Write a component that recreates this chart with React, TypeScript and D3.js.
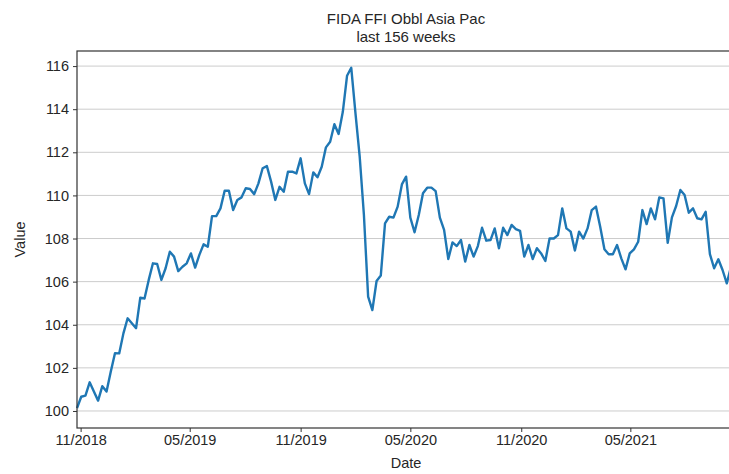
import React, { useRef, useEffect } from "react"
import * as d3 from "d3"

// weekly index values, first week ending 26 Oct 2018
const startDate = new Date(2018, 9, 26)
const values = [
  100.13, 100.66, 100.71, 101.33, 100.9, 100.48, 101.15, 100.9, 101.82, 102.68, 102.67, 103.6, 104.3, 104.07, 103.84, 105.26,
  105.22, 106.08, 106.85, 106.82, 106.08, 106.62, 107.39, 107.16, 106.49, 106.69, 106.85, 107.31, 106.65, 107.24, 107.73, 107.62,
  109.04, 109.04, 109.4, 110.22, 110.22, 109.32, 109.79, 109.91, 110.33, 110.3, 110.06, 110.56, 111.26, 111.36, 110.64, 109.79,
  110.4, 110.17, 111.1, 111.1, 111.02, 111.72, 110.56, 110.06, 111.07, 110.84, 111.33, 112.23, 112.49,
  113.3, 112.85, 113.88, 115.55, 115.92, 113.81, 111.8, 109.09, 105.3, 104.68, 106.03, 106.28, 108.7, 109.01, 108.97, 109.48,
  110.51, 110.87, 108.97, 108.29, 109.09, 110.1, 110.36, 110.36, 110.2, 108.97, 108.4, 107.05, 107.82, 107.65, 107.93,
  106.93, 107.7, 107.16, 107.65, 108.5, 107.9, 107.93, 108.47, 107.55, 108.5, 108.16, 108.63, 108.44, 108.36, 107.16, 107.7,
  107.05, 107.55, 107.31, 106.96, 108.0, 108.0, 108.16, 109.4, 108.47, 108.32, 107.44, 108.32, 108.0, 108.47, 109.32,
  109.48, 108.55, 107.5, 107.27, 107.27, 107.7, 107.08, 106.57, 107.31, 107.5, 107.85, 109.32, 108.67, 109.4, 108.89, 109.91,
  109.86, 107.8, 108.98, 109.51, 110.25, 110.02, 109.2, 109.4, 108.94, 108.89, 109.24, 107.28, 106.62, 107.04, 106.54, 105.92,
  106.69,
]
const yTicks = [100, 102, 104, 106, 108, 110, 112, 114, 116]
const xTicks = [new Date(2018, 10, 1), new Date(2019, 4, 1), new Date(2019, 10, 1), new Date(2020, 4, 1), new Date(2020, 10, 1), new Date(2021, 4, 1)]
const titleLines = ["FIDA FFI Obbl Asia Pac", "last 156 weeks"]

const W = 729
const H = 474
const FONT = "'Liberation Sans', Arial, sans-serif"
const TXT = "#262626"

const App = () => {
  const ref = useRef<SVGSVGElement>(null)

  useEffect(() => {
    const svg = d3.select(ref.current)
    svg.selectAll("*").remove()

    const data = values.map((v, i) => ({ date: d3.timeWeek.offset(startDate, i), value: v }))
    // axes box runs past the right edge of the picture
    const left = 77, right = 731, top = 51, bottom = 428

    const x = d3.scaleTime()
      .domain([data[0].date, data[data.length - 1].date])
      .range([left, right])
    const y = d3.scaleLinear().domain([99.21, 116.7]).range([bottom, top])

    // grid
    svg.append("g")
      .selectAll("line")
      .data(yTicks)
      .join("line")
      .attr("x1", left).attr("x2", right)
      .attr("y1", d => y(d)).attr("y2", d => y(d))
      .attr("stroke", "#cccccc").attr("stroke-width", 1)

    const line = d3.line<{ date: Date; value: number }>()
      .x(d => x(d.date))
      .y(d => y(d.value))
    svg.append("path")
      .datum(data)
      .attr("d", line)
      .attr("fill", "none")
      .attr("stroke", "#1f77b4")
      .attr("stroke-width", 2.4)
      .attr("stroke-linejoin", "round")

    // frame
    svg.append("rect")
      .attr("x", left).attr("y", top)
      .attr("width", right + 10 - left).attr("height", bottom - top)
      .attr("fill", "none").attr("stroke", "#333333").attr("stroke-width", 1.2)

    const yAxis = d3.axisLeft(y).tickValues(yTicks).tickSize(4).tickPadding(4).tickFormat(d3.format("d"))
    const gy = svg.append("g").attr("transform", `translate(${left},0)`).call(yAxis)
    const xAxis = d3.axisBottom(x).tickValues(xTicks).tickSize(4).tickPadding(3).tickFormat(d3.timeFormat("%m/%Y") as any)
    const gx = svg.append("g").attr("transform", `translate(0,${bottom})`).call(xAxis)

    for (const g of [gx, gy]) {
      g.select(".domain").remove()
      g.selectAll(".tick line").attr("stroke", "#333333")
      g.selectAll(".tick text").attr("fill", TXT).style("font-family", FONT).style("font-size", "14.5px")
    }

    svg.append("text")
      .attr("x", 406).attr("y", 468)
      .attr("text-anchor", "middle")
      .attr("fill", TXT).style("font-family", FONT).style("font-size", "14.5px")
      .text("Date")

    svg.append("text")
      .attr("transform", `translate(25,${(top + bottom) / 2}) rotate(-90)`)
      .attr("text-anchor", "middle")
      .attr("fill", TXT).style("font-family", FONT).style("font-size", "14.5px")
      .text("Value")

    svg.append("g")
      .selectAll("text")
      .data(titleLines)
      .join("text")
      .attr("x", 406)
      .attr("y", (d, i) => 24 + i * 18)
      .attr("text-anchor", "middle")
      .attr("fill", TXT).style("font-family", FONT).style("font-size", "15px")
      .text(d => d)
  }, [])

  return (
    <svg ref={ref} width={W} height={H} style={{ position: "absolute", left: 0, top: 0, background: "#fff" }} />
  )
}

export default App
